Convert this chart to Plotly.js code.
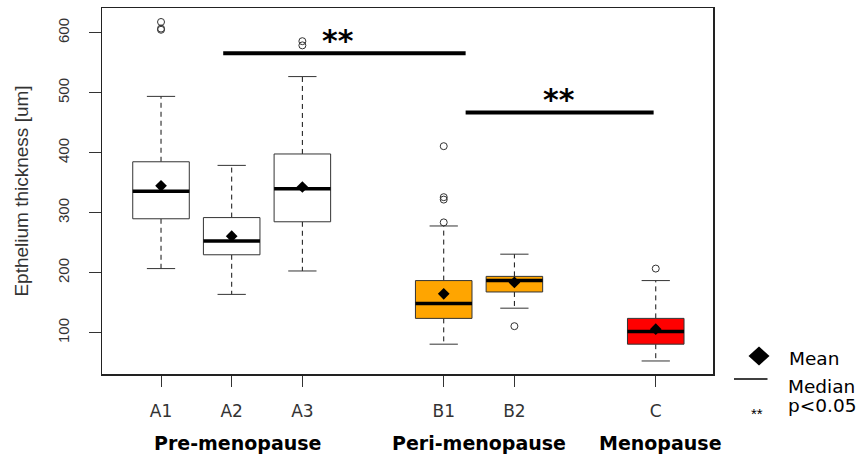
<!DOCTYPE html>
<html>
<head>
<meta charset="utf-8">
<script src="https://cdn.plot.ly/plotly-3.0.1.min.js"></script>
<style>html,body{margin:0;padding:0;background:#fff;}#chart{width:863px;height:455px;}</style>
</head>
<body>
<div id="chart"></div>
<script>
// ---- data ----
const groups = ['A1', 'A2', 'A3', 'B1', 'B2', 'C'];
const positions = [1, 2, 3, 5, 6, 8];
const lowerWhisker = [207, 164, 203, 81, 141, 53];
const q1 = [290, 230, 285, 124, 168, 81];
const median = [336, 253, 340, 149, 187, 102];
const q3 = [385, 292, 398, 187, 194, 124];
const upperWhisker = [494, 379, 527, 278, 231, 187];
const mean = [345, 261, 343, 165, 184, 106];
const outliers = [[618, 607, 605], [], [586, 579], [411, 326, 322, 284], [111], [207]];
const boxColors = ['#FFFFFF', '#FFFFFF', '#FFFFFF', '#FFA500', '#FFA500', '#FF0000'];
const groupLabels = ['Pre-menopause', 'Peri-menopause', 'Menopause'];
const yTicks = [100, 200, 300, 400, 500, 600];
const sigPairs = [[566, 1.88, 5.31], [467, 5.31, 7.97]];

// ---- styles ----
const BOX_HALF = 0.4, CAP_HALF = 0.2;
const EDGE = '#333333';

const traces = [];
groups.forEach((g, i) => {
  const p = positions[i];
  traces.push({
    type: 'scatter', mode: 'lines', hoverinfo: 'skip',
    x: [p, p, null, p, p],
    y: [q3[i], upperWhisker[i], null, q1[i], lowerWhisker[i]],
    line: {color: '#111', width: 1, dash: '5px,4px'}
  });
  traces.push({
    type: 'scatter', mode: 'lines', hoverinfo: 'skip',
    x: [p - CAP_HALF, p + CAP_HALF, null, p - CAP_HALF, p + CAP_HALF],
    y: [upperWhisker[i], upperWhisker[i], null, lowerWhisker[i], lowerWhisker[i]],
    line: {color: EDGE, width: 1}
  });
  traces.push({
    type: 'scatter', mode: 'lines', name: g, fill: 'toself', fillcolor: boxColors[i],
    x: [p - BOX_HALF, p + BOX_HALF, p + BOX_HALF, p - BOX_HALF, p - BOX_HALF],
    y: [q1[i], q1[i], q3[i], q3[i], q1[i]],
    line: {color: EDGE, width: 1}
  });
  traces.push({
    type: 'scatter', mode: 'lines', hoverinfo: 'skip',
    x: [p - BOX_HALF, p + BOX_HALF], y: [median[i], median[i]],
    line: {color: '#000', width: 3.5}
  });
  if (outliers[i].length) {
    traces.push({
      type: 'scatter', mode: 'markers', hoverinfo: 'y',
      x: outliers[i].map(() => p), y: outliers[i],
      marker: {symbol: 'circle-open', size: 7, color: EDGE, line: {width: 1, color: EDGE}}
    });
  }
});
traces.push({
  type: 'scatter', mode: 'markers', name: 'Mean',
  x: positions, y: mean,
  marker: {symbol: 'diamond', size: 9, color: '#000'}
});

const L = 102, R = 713, T = 8, B = 374;
const px = v => (v - L) / (R - L);
const py = v => (B - v) / (B - T);

const shapes = sigPairs.map(s => ({
  type: 'line', xref: 'x', yref: 'y', x0: s[1], x1: s[2], y0: s[0], y1: s[0],
  line: {color: '#000', width: 4}
}));
shapes.push({
  type: 'path', xref: 'paper', yref: 'paper', fillcolor: '#000', line: {width: 0},
  path: `M ${px(759)},${py(346.5)} L ${px(769.5)},${py(356)} L ${px(759)},${py(365.5)} L ${px(748.5)},${py(356)} Z`
});
shapes.push({
  type: 'line', xref: 'paper', yref: 'paper', x0: px(734), x1: px(767.5), y0: py(379), y1: py(379),
  line: {color: '#000', width: 1.5}
});

const groupFont = {family: 'DejaVu Sans, sans-serif', size: 19, color: '#000', weight: 'bold'};
const legFont = {family: 'DejaVu Sans, sans-serif', size: 18.5, color: '#000'};
const starFont = {family: 'DejaVu Sans, sans-serif', size: 30, color: '#000', weight: 'bold'};

function note(xref, yref, x, y, text, font, xanchor) {
  return {xref: xref, yref: yref, x: x, y: y, text: text, showarrow: false, font: font,
          xanchor: xanchor || 'center', yanchor: 'middle'};
}

const annotations = [
  note('x', 'y', 3.51, 587, '**', starFont),
  note('x', 'y', 6.63, 488.5, '**', starFont),
  note('x', 'paper', 2.08, py(443), '<b>' + groupLabels[0] + '</b>', groupFont),
  note('x', 'paper', 5.5, py(443), '<b>' + groupLabels[1] + '</b>', groupFont),
  note('x', 'paper', 8.07, py(443), '<b>' + groupLabels[2] + '</b>', groupFont),
  note('paper', 'paper', px(787), py(358), 'Mean', legFont, 'left'),
  note('paper', 'paper', px(786), py(386.5), 'Median', legFont, 'left'),
  note('paper', 'paper', px(786), py(405.5), 'p<0.05', legFont, 'left'),
  note('paper', 'paper', px(757), py(413), '**', {family: 'Liberation Sans, Arial, sans-serif', size: 15, color: '#000'})
];

const layout = {
  width: 863, height: 455,
  margin: {l: L, r: 863 - R, t: T, b: 455 - B, pad: 0},
  paper_bgcolor: '#fff', plot_bgcolor: '#fff',
  showlegend: false,
  xaxis: {
    range: [0.165, 8.81], tickvals: positions, ticktext: groups,
    showgrid: false, zeroline: false, showline: true, mirror: true,
    linecolor: '#222', linewidth: 1.5,
    ticks: 'outside', ticklen: 11, tickcolor: '#333', tickwidth: 1,
    ticklabelstandoff: 10,
    tickfont: {family: 'DejaVu Sans, sans-serif', size: 17, color: '#333'}
  },
  yaxis: {
    range: [31.3, 641.3], tickvals: yTicks,
    showgrid: false, zeroline: false, showline: true, mirror: true,
    linecolor: '#222', linewidth: 1.5,
    ticks: 'outside', ticklen: 12, tickcolor: '#333', tickwidth: 1,
    tickangle: -90, ticklabelstandoff: 14,
    tickfont: {family: 'Liberation Sans, Arial, sans-serif', size: 15, color: '#333'},
    title: {text: 'Epthelium thickness [um]', standoff: 21,
            font: {family: 'Liberation Sans, Arial, sans-serif', size: 19, color: '#333'}}
  },
  shapes: shapes,
  annotations: annotations
};

Plotly.newPlot('chart', traces, layout, {displayModeBar: false, staticPlot: true});
</script>
</body>
</html>
